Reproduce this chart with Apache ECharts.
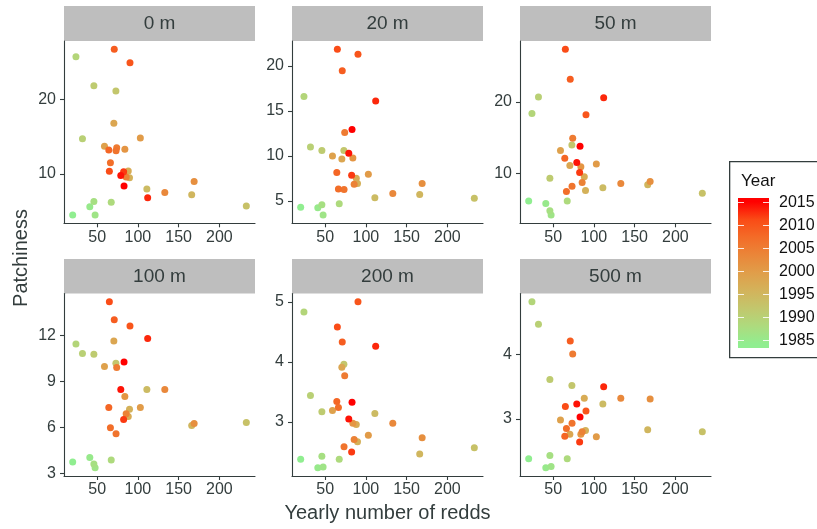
<!DOCTYPE html>
<html>
<head>
<meta charset="utf-8">
<script src="https://cdn.jsdelivr.net/npm/echarts@6/dist/echarts.min.js"></script>
<style>
html,body{margin:0;padding:0;background:#fff;}
#chart{width:817px;height:529px;}
</style>
</head>
<body>
<div id="chart"></div>
<script>
// ---------------- DATA ----------------
const years = [1984,1985,1986,1987,1988,1989,1990,1991,1992,1993,1994,1995,1996,1997,1998,1999,
               2000,2001,2002,2003,2004,2005,2006,2007,2008,2009,2010,2011,2012,2013,2014,2015];
const redds = [20,41,47.5,46,67.3,24,32,46,73,233,111,166,89.7,88.2,70.5,59,
               103,84,169,133,85.6,74,73.2,66.3,64.3,71,90.3,65,82.5,112,79,83];
const patch0   = [4.5,5.6,4.5,6.3,6.2,25.7,14.7,21.8,21.1,5.7,8.0,7.2,9.5,10.4,16.8,13.7,
                  14.8,13.3,9.0,7.5,9.6,13.5,13.1,11.5,13.2,26.7,24.9,10.36,10.3,6.8,9.8,8.4];
const patch20  = [4.29,4.25,3.44,4.59,4.7,16.6,11.0,10.6,10.6,5.29,5.36,5.73,6.94,7.53,9.67,10.0,
                  7.97,9.78,6.94,5.84,6.87,12.6,6.28,6.32,8.16,19.47,21.3,21.86,7.86,16.1,10.3,12.95];
const patch50  = [6.1,5.77,4.14,4.74,6.1,18.4,20.7,9.3,13.95,7.2,7.95,8.37,7.58,9.5,11.1,13.2,
                  11.3,10.9,8.84,8.56,8.7,14.9,8.19,7.44,12.1,23.2,18.2,27.4,10.1,20.6,11.5,13.8];
const patch100 = [3.75,4.05,3.38,3.62,3.88,11.45,10.82,10.78,10.19,6.33,8.48,6.14,7.2,6.72,11.65,9.98,
                  7.31,8.02,6.27,8.48,6.9,9.91,5.6,5.98,7.31,13.03,12.62,14.2,6.53,11.8,8.48,10.28];
const patch200 = [2.38,2.24,2.25,2.43,2.38,4.83,3.44,3.17,3.96,2.57,3.14,2.47,2.67,2.96,3.91,3.19,
                  2.78,2.98,2.74,2.98,2.71,3.77,2.59,3.24,3.34,4.33,5.0,4.58,2.5,4.26,3.05,3.33];
const patch500 = [2.38,2.24,2.26,2.43,2.38,4.82,4.47,3.61,3.52,2.8,3.23,2.83,2.82,3.32,2.76,2.98,
                  2.72,2.76,3.31,3.32,2.80,4.01,2.93,2.85,2.73,4.21,3.12,3.19,2.64,3.5,3.23,3.03];
const panelNames = ['0 m','20 m','50 m','100 m','200 m','500 m'];
const xTicks = [50,100,150,200];
const yTicks0 = [10,20];
const yTicks20 = [5,10,15,20];
const yTicks50 = [10,20];
const yTicks100 = [3,6,9,12];
const yTicks200 = [3,4,5];
const yTicks500 = [3,4];
const legendBreaks = [1985,1990,1995,2000,2005,2010,2015];

// ---------------- STYLE / LAYOUT ----------------
const FONT = "'Liberation Sans', Arial, Helvetica, sans-serif";
const TXT = '#333d3d';
const AX = '#333d3d';
const gradColors = ['#90EE90','#ADDB7E','#C2C76D','#D3B35B','#E09E4A','#EA8639','#F36C28','#FA4B16','#FF0000'];
const yMinYear = Math.min(...years), yMaxYear = Math.max(...years);

const patches = [patch0,patch20,patch50,patch100,patch200,patch500];
const yTickSets = [yTicks0,yTicks20,yTicks50,yTicks100,yTicks200,yTicks500];
const colLeft = [64,292,520];
const rowTop = [41,293.5];
const rowH = [182.3,182.5];
const stripTop = [6,259];
const PW = 191;

function expand(arr){
  const mn = Math.min(...arr), mx = Math.max(...arr), r = mx-mn;
  return [mn-0.05*r, mx+0.05*r];
}
const xr = expand(redds);

const grids=[], xAxes=[], yAxes=[], series=[], graphics=[];
for(let i=0;i<6;i++){
  const c=i%3, r=Math.floor(i/3);
  grids.push({left:colLeft[c], top:rowTop[r], width:PW, height:rowH[r], containLabel:false});
  xAxes.push({
    gridIndex:i, type:'value', min:xr[0], max:xr[1],
    axisLine:{show:true,onZero:false,lineStyle:{color:AX,width:1.1}},
    axisTick:{show:true,length:4,lineStyle:{color:AX,width:1.1},customValues:xTicks},
    axisLabel:{customValues:xTicks,fontSize:16,color:TXT,fontFamily:FONT,margin:6},
    splitLine:{show:false}
  });
  const yr = expand(patches[i]);
  yAxes.push({
    gridIndex:i, type:'value', min:yr[0], max:yr[1],
    axisLine:{show:true,onZero:false,lineStyle:{color:AX,width:1.1}},
    axisTick:{show:true,length:4,lineStyle:{color:AX,width:1.1},customValues:yTickSets[i]},
    axisLabel:{customValues:yTickSets[i],fontSize:16,color:TXT,fontFamily:FONT,margin:8},
    splitLine:{show:false}
  });
  series.push({
    type:'scatter', xAxisIndex:i, yAxisIndex:i,
    symbolSize:7,
    data: years.map((y,k)=>[redds[k], patches[i][k], y]),
    itemStyle:{opacity:1}
  });
  // strip
  const sh = r===0 ? 35 : 34.5;
  graphics.push({type:'rect', left:colLeft[c], top:stripTop[r], shape:{width:PW, height:sh},
    style:{fill:'#BEBEBE'}, silent:true});
  graphics.push({type:'text', x:colLeft[c]+PW/2, y:stripTop[r]+sh/2+0.5,
    style:{text:panelNames[i], fill:TXT, font:'19px '+FONT, textAlign:'center', textVerticalAlign:'middle'}, silent:true});
}

// axis titles
graphics.push({type:'text', x:387.5, y:513, style:{text:'Yearly number of redds', fill:TXT,
  font:'20px '+FONT, textAlign:'center', textVerticalAlign:'middle'}});
graphics.push({type:'text', x:21, y:258, rotation:Math.PI/2, style:{text:'Patchiness', fill:TXT,
  font:'20px '+FONT, textAlign:'center', textVerticalAlign:'middle'}});

// legend (colour bar)
const barX=738, barW=31, barTop=198, barBot=348;
const limTop=201.75, limBot=344.25;
function yrToPx(v){ return limTop + (yMaxYear - v)*(limBot-limTop)/(yMaxYear-yMinYear); }
const stops=[];
for(let k=0;k<gradColors.length;k++){
  const yv = yMinYear + k*(yMaxYear-yMinYear)/(gradColors.length-1);
  stops.push({offset:(yrToPx(yv)-barTop)/(barBot-barTop), color:gradColors[k]});
}
stops.sort((a,b)=>a.offset-b.offset);
const stopsFull = [{offset:0,color:'#FF0000'}].concat(stops).concat([{offset:1,color:'#90EE90'}]);
graphics.push({type:'rect', left:729, top:161, shape:{width:100,height:196},
  style:{fill:'#fff', stroke:'#333d3d', lineWidth:1.3}, silent:true});
graphics.push({type:'text', x:741, y:181, style:{text:'Year', fill:'#111', font:'17px '+FONT,
  textAlign:'left', textVerticalAlign:'middle'}});
graphics.push({type:'rect', left:barX, top:barTop, shape:{width:barW,height:barBot-barTop},
  style:{fill:{type:'linear',x:0,y:0,x2:0,y2:1,colorStops:stopsFull}}, silent:true});
legendBreaks.forEach(b=>{
  const py = Math.round(yrToPx(b))+0.5;
  graphics.push({type:'line', shape:{x1:barX,y1:py,x2:barX+6,y2:py}, style:{stroke:'rgba(255,255,255,0.85)',lineWidth:1}, silent:true});
  graphics.push({type:'line', shape:{x1:barX+barW-6,y1:py,x2:barX+barW,y2:py}, style:{stroke:'rgba(255,255,255,0.85)',lineWidth:1}, silent:true});
  graphics.push({type:'text', x:779, y:py, style:{text:String(b), fill:'#111', font:'16px '+FONT,
    textAlign:'left', textVerticalAlign:'middle'}});
});

const chart = echarts.init(document.getElementById('chart'), null, {renderer:'canvas'});
chart.setOption({
  animation:false,
  backgroundColor:'#fff',
  grid:grids, xAxis:xAxes, yAxis:yAxes, series:series,
  visualMap:{type:'continuous', show:false, min:yMinYear, max:yMaxYear, dimension:2,
    seriesIndex:[0,1,2,3,4,5], inRange:{color:gradColors}},
  graphic:graphics
});
</script>
</body>
</html>
